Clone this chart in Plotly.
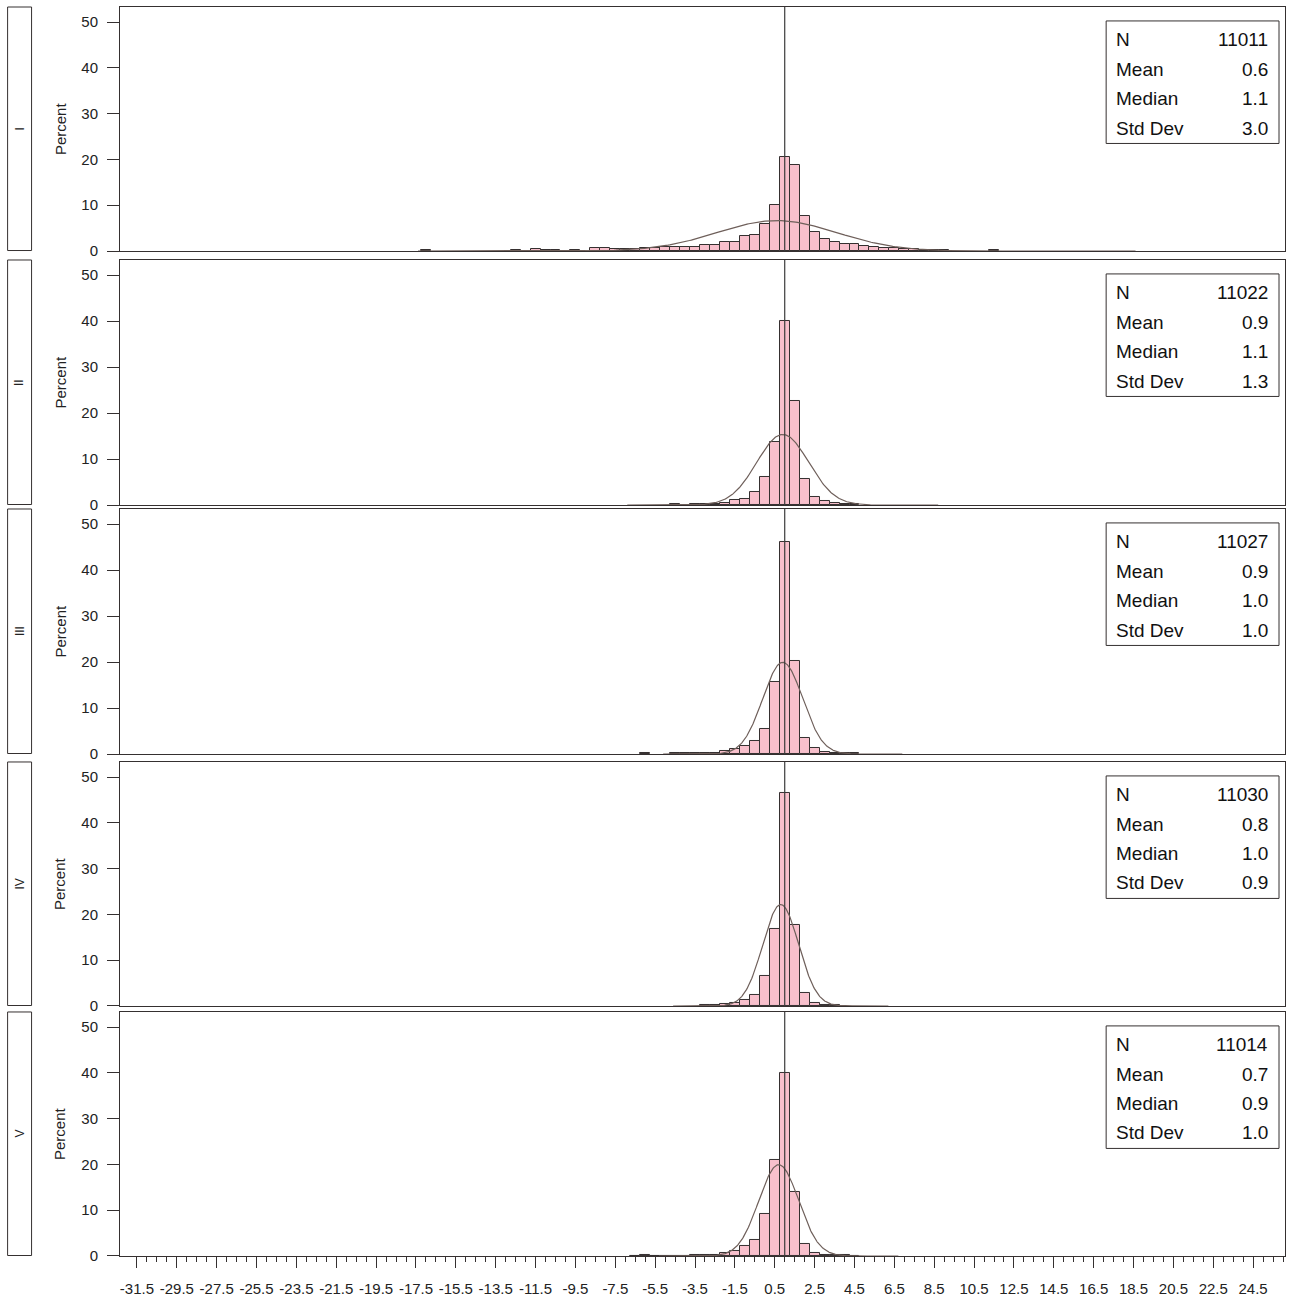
import numpy as np
import plotly.graph_objects as go
from plotly.subplots import make_subplots

# ---------------- data ----------------
panel_labels = ["I", "II", "III", "IV", "V"]
stat_names = ["N", "Mean", "Median", "Std Dev"]
n_values = ["11011", "11022", "11027", "11030", "11014"]
mean_values = [0.6, 0.9, 0.9, 0.8, 0.7]
median_values = [1.1, 1.1, 1.0, 1.0, 0.9]
sd_values = [3.0, 1.3, 1.0, 0.9, 1.0]
reference_value = 1.0
bin_width = 0.5

x_tick_labels = ["-31.5", "-29.5", "-27.5", "-25.5", "-23.5", "-21.5", "-19.5",
                 "-17.5", "-15.5", "-13.5", "-11.5", "-9.5", "-7.5", "-5.5",
                 "-3.5", "-1.5", "0.5", "2.5", "4.5", "6.5", "8.5", "10.5",
                 "12.5", "14.5", "16.5", "18.5", "20.5", "22.5", "24.5"]
y_tick_values = [0, 10, 20, 30, 40, 50]

mid_I = [-17.0, -12.5, -11.5, -11.0, -10.5, -9.5, -8.5, -8.0, -7.5, -7.0, -6.5,
         -6.0, -5.5, -5.0, -4.5, -4.0, -3.5, -3.0, -2.5, -2.0, -1.5, -1.0, -0.5,
         0.0, 0.5, 1.0, 1.5, 2.0, 2.5, 3.0, 3.5, 4.0, 4.5, 5.0, 5.5, 6.0, 6.5,
         7.0, 7.5, 8.0, 8.5, 9.0, 11.5]
pct_I = [0.3, 0.2, 0.4, 0.2, 0.2, 0.2, 0.7, 0.7, 0.4, 0.4, 0.4,
         0.6, 0.6, 0.8, 0.8, 0.8, 0.8, 1.4, 1.4, 2.0, 2.0, 3.3, 3.5,
         5.8, 10.1, 20.6, 18.8, 7.7, 4.2, 2.6, 2.0, 1.5, 1.5, 1.1, 0.9, 0.7, 0.6,
         0.5, 0.4, 0.3, 0.3, 0.2, 0.3]

mid_II = [-4.5, -3.5, -3.0, -2.5, -2.0, -1.5, -1.0, -0.5, 0.0, 0.5, 1.0, 1.5,
          2.0, 2.5, 3.0, 3.5, 4.0, 4.5]
pct_II = [0.2, 0.15, 0.2, 0.3, 0.5, 1.0, 1.3, 2.9, 6.0, 13.8, 40.1, 22.7,
          5.6, 1.8, 0.95, 0.5, 0.3, 0.2]

mid_III = [-6.0, -4.5, -4.0, -3.5, -3.0, -2.5, -2.0, -1.5, -1.0, -0.5, 0.0, 0.5,
           1.0, 1.5, 2.0, 2.5, 3.0, 3.5, 4.0, 4.5]
pct_III = [0.2, 0.15, 0.15, 0.2, 0.2, 0.3, 0.6, 1.0, 1.8, 2.9, 5.4, 15.7,
           46.2, 20.2, 3.4, 1.4, 0.5, 0.3, 0.2, 0.15]

mid_IV = [-3.0, -2.5, -2.0, -1.5, -1.0, -0.5, 0.0, 0.5, 1.0, 1.5, 2.0, 2.5, 3.0, 3.5]
pct_IV = [0.15, 0.2, 0.4, 0.7, 1.3, 2.3, 6.6, 16.8, 46.6, 17.8, 2.9, 0.65, 0.3, 0.15]

mid_V = [-6.5, -6.0, -5.5, -5.0, -4.5, -4.0, -3.5, -3.0, -2.5, -2.0, -1.5, -1.0,
         -0.5, 0.0, 0.5, 1.0, 1.5, 2.0, 2.5, 3.0, 3.5, 4.0, 4.5]
pct_V = [0.1, 0.15, 0.1, 0.1, 0.1, 0.1, 0.15, 0.15, 0.3, 0.65, 1.1, 2.2,
         3.4, 9.2, 20.9, 40.0, 13.9, 2.7, 0.65, 0.3, 0.2, 0.15, 0.1]

mids = [mid_I, mid_II, mid_III, mid_IV, mid_V]
pcts = [pct_I, pct_II, pct_III, pct_IV, pct_V]

# ---------------- styling / layout ----------------
W, H = 1289, 1300
ML, MR, MT, MB = 120, 3, 7, 39
PW, PH = W - ML - MR, H - MT - MB
panel_px = [(7, 252), (261, 507), (511, 757), (765, 1010), (1016, 1261)]
FONT = "Liberation Sans, Arial, sans-serif"
BAR_FILL = "#F8C0CC"
EDGE = "#353030"
CURVE = "#6e5f5a"
XRANGE = [-32.35, 26.1]
YRANGE = [0, 53.3]


def px_to_paper_y(py):
    return (H - MB - py) / PH


def px_to_paper_x(px):
    return (px - ML) / PW


fig = make_subplots(rows=5, cols=1, shared_xaxes=False, vertical_spacing=0.0)

x_tick_vals = [float(t) for t in x_tick_labels]
minor_vals = list(np.arange(-31.5, 26.01, 0.5))

shapes = []
annotations = []
for i in range(5):
    r = i + 1
    mid, pct = mids[i], pcts[i]
    fig.add_trace(go.Bar(x=mid, y=pct, width=[bin_width] * len(mid),
                         marker=dict(color=BAR_FILL, line=dict(color=EDGE, width=1)),
                         showlegend=False, hoverinfo="x+y"), row=r, col=1)
    # fitted normal density (from the displayed Mean / Std Dev), scaled to percent per bin
    m, s = mean_values[i], sd_values[i]
    xc = np.linspace(m - 6 * s, m + 6 * s, 400)
    yc = 100 * bin_width * np.exp(-0.5 * ((xc - m) / s) ** 2) / (s * np.sqrt(2 * np.pi))
    fig.add_trace(go.Scatter(x=xc, y=yc, mode="lines", line=dict(color=CURVE, width=1.2),
                             showlegend=False, hoverinfo="skip"), row=r, col=1)

    top, bot = panel_px[i]
    xa = "xaxis" if r == 1 else f"xaxis{r}"
    ya = "yaxis" if r == 1 else f"yaxis{r}"
    xref = "x" if r == 1 else f"x{r}"
    yref = "y" if r == 1 else f"y{r}"
    fig.layout[ya].update(domain=[px_to_paper_y(bot), px_to_paper_y(top)], range=YRANGE,
                          tickvals=y_tick_values, ticks="outside", ticklen=12,
                          tickcolor=EDGE, showline=True, linecolor=EDGE, mirror=True,
                          showgrid=False, zeroline=False,
                          tickfont=dict(family=FONT, size=15, color="#222"),
                          ticklabelstandoff=6)
    last = (r == 5)
    fig.layout[xa].update(range=XRANGE, showline=True, linecolor=EDGE, mirror=True,
                          showgrid=False, zeroline=False,
                          tickvals=x_tick_vals if last else [],
                          ticktext=x_tick_labels if last else [],
                          showticklabels=last, ticks="outside" if last else "",
                          ticklen=11, tickcolor=EDGE,
                          tickfont=dict(family=FONT, size=15, color="#222"),
                          ticklabelstandoff=8)
    if last:
        fig.layout[xa].update(minor=dict(tickvals=minor_vals, ticks="outside",
                                         ticklen=5, tickcolor=EDGE, showgrid=False))
    if not last:
        fig.layout[xa].update(matches="x5")

    # reference line
    shapes.append(dict(type="line", xref=xref, yref=f"{yref} domain", x0=reference_value,
                       x1=reference_value, y0=0, y1=1, line=dict(color="#3c3c3c", width=1.2),
                       layer="above"))
    # strip box on the left
    shapes.append(dict(type="rect", xref="paper", yref="paper",
                       x0=px_to_paper_x(7.5), x1=px_to_paper_x(31.5),
                       y0=px_to_paper_y(bot - 0.5), y1=px_to_paper_y(top),
                       line=dict(color=EDGE, width=1), fillcolor="rgba(0,0,0,0)"))
    annotations.append(dict(xref="paper", yref="paper", x=px_to_paper_x(19.5),
                            y=px_to_paper_y((top + bot) / 2), text=panel_labels[i],
                            textangle=-90, showarrow=False,
                            font=dict(family=FONT, size=12, color="#222"),
                            xanchor="center", yanchor="middle"))
    annotations.append(dict(xref="paper", yref="paper", x=px_to_paper_x(60),
                            y=px_to_paper_y((top + bot) / 2), text="Percent",
                            textangle=-90, showarrow=False,
                            font=dict(family=FONT, size=15, color="#222"),
                            xanchor="center", yanchor="middle"))
    # stats box
    bx0, bx1 = 1107, 1280
    by0, by1 = top + 14, top + 137
    shapes.append(dict(type="rect", xref="paper", yref="paper",
                       x0=px_to_paper_x(bx0), x1=px_to_paper_x(bx1),
                       y0=px_to_paper_y(by1), y1=px_to_paper_y(by0),
                       line=dict(color=EDGE, width=1), fillcolor="white", layer="above"))
    vals = [n_values[i], f"{mean_values[i]:.1f}", f"{median_values[i]:.1f}",
            f"{sd_values[i]:.1f}"]
    for k, (nm, v) in enumerate(zip(stat_names, vals)):
        yy = px_to_paper_y(top + 33 + k * 29.5)
        annotations.append(dict(xref="paper", yref="paper", x=px_to_paper_x(1115),
                                y=yy, text=nm, showarrow=False, xanchor="left",
                                yanchor="middle",
                                font=dict(family=FONT, size=19, color="#111")))
        annotations.append(dict(xref="paper", yref="paper", x=px_to_paper_x(1271),
                                y=yy, text=v, showarrow=False, xanchor="right",
                                yanchor="middle",
                                font=dict(family=FONT, size=19, color="#111")))

fig.update_layout(width=W, height=H, margin=dict(l=ML, r=MR, t=MT, b=MB),
                  paper_bgcolor="white", plot_bgcolor="white",
                  shapes=shapes, annotations=annotations, bargap=0,
                  font=dict(family=FONT))

fig.write_html("out.html", config={"displayModeBar": False},
               post_script="document.body.style.margin='0px';document.body.style.overflow='hidden';")
